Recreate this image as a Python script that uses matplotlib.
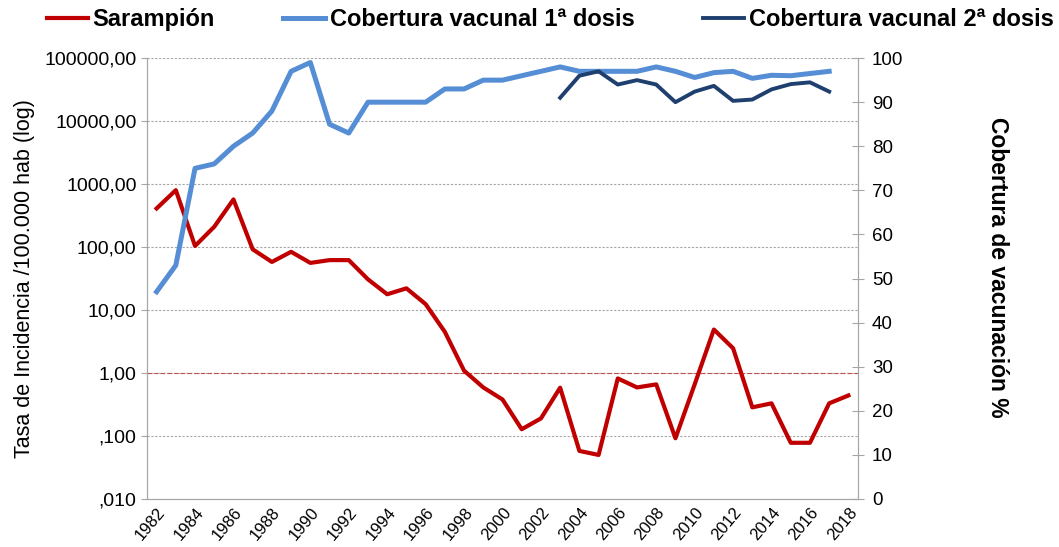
import matplotlib.pyplot as plt
from matplotlib.ticker import FixedLocator, FixedFormatter, MultipleLocator

plt.rcParams['font.family'] = ['Liberation Sans', 'DejaVu Sans']

years = list(range(1982, 2019))

# Tasa de incidencia de sarampión por 100.000 hab (escala log)
sarampion = [410, 800, 104, 210, 570, 92, 58, 84, 56, 62, 62, 30.7, 17.8, 22.1,
             12.4, 4.5, 1.09, 0.59, 0.38, 0.128, 0.19, 0.585, 0.058, 0.050, 0.82,
             0.59, 0.66, 0.092, 0.66, 4.9, 2.47, 0.285, 0.33, 0.078, 0.078, 0.33, 0.44]

# Cobertura vacunal 1a dosis (%), 1982-2017
years_d1 = list(range(1982, 2018))
dosis1 = [47, 53, 75, 76, 80, 83, 88, 97, 99, 85, 83, 90, 90, 90, 90, 93, 93, 95,
          95, 96, 97, 98, 97, 97, 97, 97, 98, 97, 95.6, 96.7, 97, 95.4, 96.1, 96,
          96.5, 97]

# Cobertura vacunal 2a dosis (%), 2003-2017
years_d2 = list(range(2003, 2018))
dosis2 = [91, 96, 97, 94, 95, 94, 90, 92.4, 93.7, 90.3, 90.6, 92.9, 94.1, 94.5, 92.4]

left_ticks = [0.01, 0.1, 1, 10, 100, 1000, 10000, 100000]
left_labels = [',010', ',100', '1,00', '10,00', '100,00', '1000,00', '10000,00', '100000,00']

fig = plt.figure(figsize=(10.59, 5.47), dpi=100)
ax = fig.add_axes([0.1388, 0.0878, 0.6714, 0.806])
ax2 = ax.twinx()

# category positions (Excel-style, points between tick marks)
idx = {y: i for i, y in enumerate(years)}

ax.plot([idx[y] for y in years], sarampion, color='#C00000', lw=3.0, zorder=3)
ax.axhline(1, color='#C0504D', lw=0.8, ls=(0, (4, 2)), zorder=2)
ax.set_yscale('log')
ax.set_ylim(0.01, 100000)
ax.yaxis.set_major_locator(FixedLocator(left_ticks))
ax.yaxis.set_major_formatter(FixedFormatter(left_labels))
ax.yaxis.set_minor_locator(FixedLocator([]))
ax.grid(axis='y', color='#A6A6A6', ls=(0, (2, 1.5)), lw=0.8)
ax.set_axisbelow(True)

ax2.plot([idx[y] for y in years_d1], dosis1, color='#558ED5', lw=3.6, zorder=3)
ax2.plot([idx[y] for y in years_d2], dosis2, color='#1F3F6E', lw=2.8, zorder=3)
ax2.set_ylim(0, 100)
ax2.yaxis.set_major_locator(MultipleLocator(10))

ax.set_xlim(-0.5, len(years) - 0.5)
xt = [idx[y] for y in years if (y - 1982) % 2 == 0]
ax.set_xticks(xt)
ax.set_xticklabels([str(y) for y in years if (y - 1982) % 2 == 0],
                   rotation=50, ha='right', rotation_mode='anchor')

for a in (ax, ax2):
    for s in a.spines.values():
        s.set_color('#A6A6A6')
    a.spines['top'].set_visible(False)
ax.tick_params(axis='x', length=0, labelsize=12, pad=4)
ax.tick_params(axis='y', length=4, color='#A6A6A6', labelsize=14, direction='out')
ax2.tick_params(axis='y', length=8, color='#A6A6A6', labelsize=13.5, direction='inout', pad=6)

ax.set_ylabel('Tasa de Incidencia /100.000 hab (log)', fontsize=15.5)
ax.yaxis.set_label_coords(-0.158, 0.5)
ax2.set_ylabel('Cobertura de vacunación %', fontsize=16.5, fontweight='bold',
               rotation=-90)
ax2.yaxis.set_label_coords(1.212, 0.526)

handles = [ax.lines[0], ax2.lines[0], ax2.lines[1]]
labels = ['Sarampión', 'Cobertura vacunal 1ª dosis', 'Cobertura vacunal 2ª dosis']
fig.legend(handles, labels, loc='upper left', bbox_to_anchor=(0.044, 0.985), ncol=3,
           frameon=False, prop={'weight': 'bold', 'size': 17}, handlelength=1.75,
           handletextpad=0.2, columnspacing=2.9, borderpad=0, borderaxespad=0)

fig.savefig('out.png', dpi=100)
